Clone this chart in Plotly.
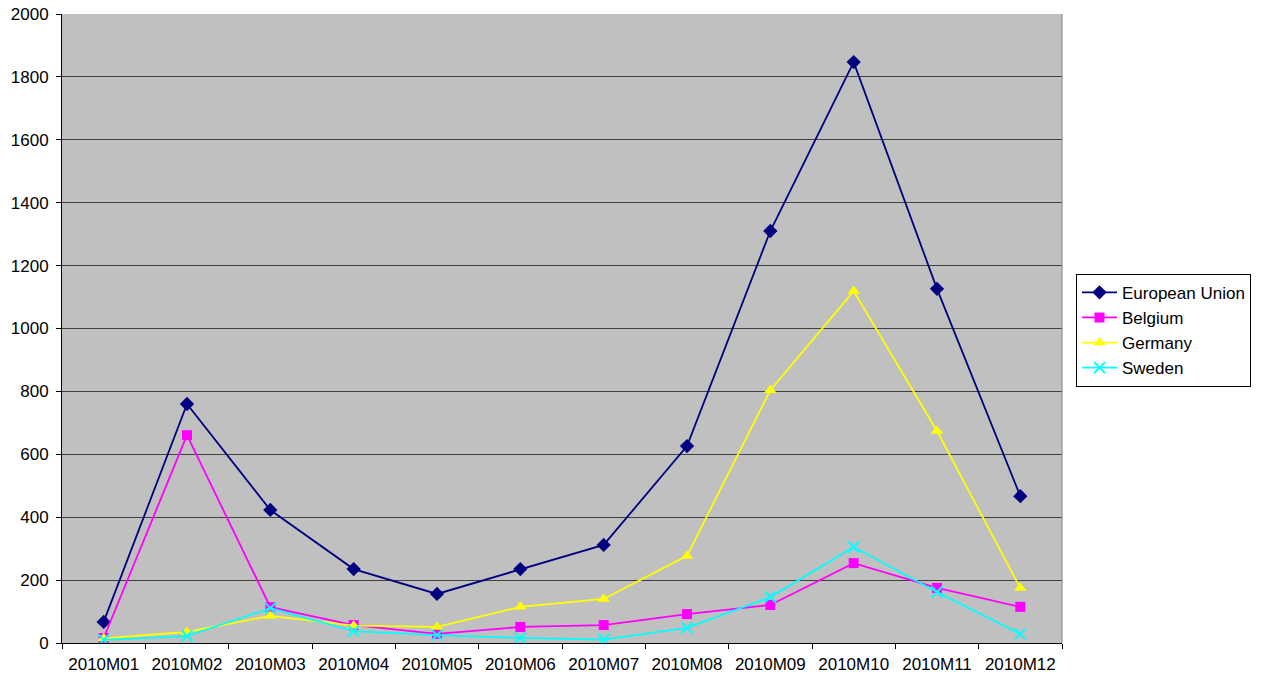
import plotly.graph_objects as go

months = ["2010M01", "2010M02", "2010M03", "2010M04", "2010M05", "2010M06",
          "2010M07", "2010M08", "2010M09", "2010M10", "2010M11", "2010M12"]

european_union = [67, 760, 423, 235, 156, 235, 312, 626, 1310, 1847, 1126, 467]
belgium = [16, 661, 114, 57, 29, 51, 57, 92, 121, 254, 175, 115]
germany = [15, 35, 86, 55, 51, 115, 140, 277, 804, 1119, 674, 175]
sweden = [10, 22, 111, 38, 25, 16, 11, 48, 146, 305, 162, 29]

y_ticks = [0, 200, 400, 600, 800, 1000, 1200, 1400, 1600, 1800, 2000]

series = [
    ("European Union", european_union, "#000080", "diamond", 11),
    ("Belgium", belgium, "#FF00FF", "square", 10),
    ("Germany", germany, "#FFFF00", "triangle-up", 11),
    ("Sweden", sweden, "#00FFFF", "x-thin", 11),
]

fig = go.Figure()
for name, values, color, symbol, size in series:
    fig.add_trace(go.Scatter(
        x=months, y=values, name=name, mode="lines+markers",
        line=dict(color=color, width=1.8),
        marker=dict(symbol=symbol, size=size, color=color,
                    line=dict(color=color, width=2 if symbol == "x-thin" else 0)),
    ))

fig.update_layout(
    width=1266, height=678,
    margin=dict(l=62, r=204, t=14, b=35, autoexpand=False),
    paper_bgcolor="white",
    plot_bgcolor="#C0C0C0",
    font=dict(family="Liberation Sans, Arial, sans-serif", size=17, color="black"),
    showlegend=True,
    legend=dict(
        x=1.014, y=0.587, xanchor="left", yanchor="top",
        bgcolor="white", bordercolor="black", borderwidth=1,
        font=dict(size=17), tracegroupgap=0, itemwidth=35,
    ),
    xaxis=dict(
        type="category", range=[-0.5, 11.5], automargin=False,
        showgrid=False, showline=True, linecolor="black", linewidth=1,
        ticks="outside", tickson="boundaries", ticklen=5, tickcolor="black",
        ticklabelstandoff=6, tickfont=dict(size=17),
    ),
    yaxis=dict(
        range=[0, 2000], tickvals=y_ticks, automargin=False,
        showgrid=True, gridcolor="#404040", gridwidth=1,
        showline=True, linecolor="black", linewidth=1,
        ticks="outside", ticklen=5, tickcolor="black",
        ticklabelstandoff=4, zeroline=False, tickfont=dict(size=17),
    ),
)

# gray frame on the right side of the plot area
fig.add_shape(type="line", xref="paper", yref="paper", x0=1, x1=1, y0=0, y1=1,
              line=dict(color="#808080", width=1))

fig.write_html("out.html")
